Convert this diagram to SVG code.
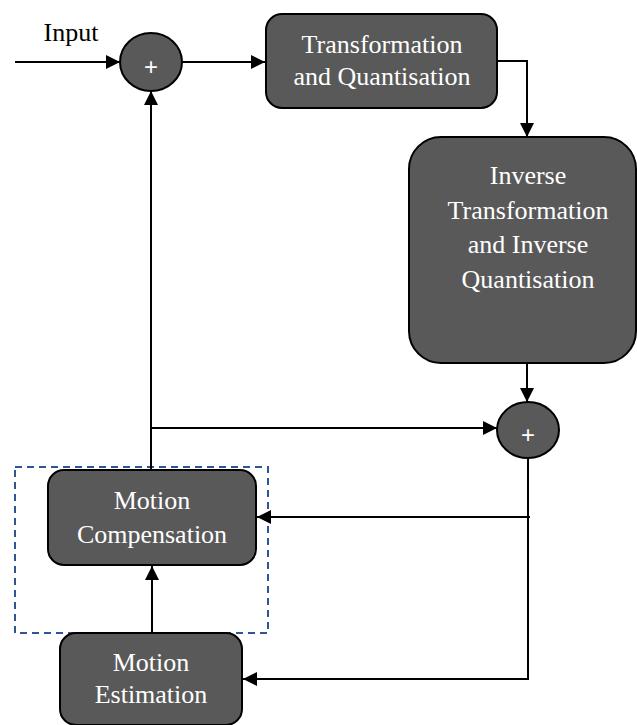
<svg xmlns="http://www.w3.org/2000/svg" width="637" height="725" viewBox="0 0 637 725">
  <style>
    .blk { fill: #595959; stroke: #000; stroke-width: 2; }
    .lbl { font-family: "Liberation Serif", "Times New Roman", serif; font-size: 26px; fill: #fff; text-anchor: middle; }
    .plus { font-family: "Liberation Sans", Arial, sans-serif; font-size: 24px; fill: #fff; text-anchor: middle; }
    .wire { fill: none; stroke: #000; stroke-width: 2; }
    .arr { marker-end: url(#head); }
  </style>
  <defs>
    <marker id="head" viewBox="0 0 14 14" markerWidth="14" markerHeight="14" refX="14" refY="7" orient="auto" markerUnits="userSpaceOnUse">
      <path d="M0,0 L14,7 L0,14 Z" fill="#000"/>
    </marker>
  </defs>

  <!-- dashed grouping frame around motion compensation -->
  <rect id="mc-frame" x="15" y="467" width="253" height="166" fill="none" stroke="#2f5597" stroke-width="2" stroke-dasharray="7,5"/>

  <!-- connectors -->
  <g id="connectors">
    <line class="wire arr" x1="15" y1="62" x2="120" y2="62"/>
    <line class="wire arr" x1="182" y1="62" x2="265" y2="62"/>
    <polyline class="wire arr" points="497,61 527,61 527,137"/>
    <line class="wire arr" x1="527" y1="364" x2="527" y2="402"/>
    <line class="wire arr" x1="151" y1="470" x2="151" y2="91"/>
    <line class="wire arr" x1="151" y1="428" x2="497" y2="428"/>
    <polyline class="wire arr" points="528,458 528,679 243,679"/>
    <line class="wire arr" x1="530" y1="517" x2="257" y2="517"/>
    <line class="wire arr" x1="152" y1="633" x2="152" y2="566"/>
  </g>

  <text x="71" y="41" font-family="Liberation Serif, Times New Roman, serif" font-size="26" fill="#000" text-anchor="middle">Input</text>

  <g id="sum1">
    <ellipse class="blk" cx="151" cy="62" rx="31" ry="29"/>
    <text class="plus" x="151" y="75">+</text>
  </g>

  <g id="transform">
    <rect class="blk" x="266" y="14" width="231" height="94" rx="16"/>
    <text class="lbl" x="382" y="53">Transformation</text>
    <text class="lbl" x="382" y="85">and Quantisation</text>
  </g>

  <g id="inverse">
    <rect class="blk" x="409" y="137" width="227" height="226" rx="32"/>
    <text class="lbl" x="528" y="184">Inverse</text>
    <text class="lbl" x="528" y="219">Transformation</text>
    <text class="lbl" x="528" y="253">and Inverse</text>
    <text class="lbl" x="528" y="288">Quantisation</text>
  </g>

  <g id="sum2">
    <ellipse class="blk" cx="528" cy="430" rx="31" ry="28"/>
    <text class="plus" x="528" y="443">+</text>
  </g>

  <g id="motion-comp">
    <rect class="blk" x="48" y="470" width="208" height="95" rx="16"/>
    <text class="lbl" x="152" y="509">Motion</text>
    <text class="lbl" x="152" y="543">Compensation</text>
  </g>

  <g id="motion-est">
    <rect class="blk" x="60" y="633" width="182" height="92" rx="16"/>
    <text class="lbl" x="151" y="671">Motion</text>
    <text class="lbl" x="151" y="703">Estimation</text>
  </g>
</svg>
